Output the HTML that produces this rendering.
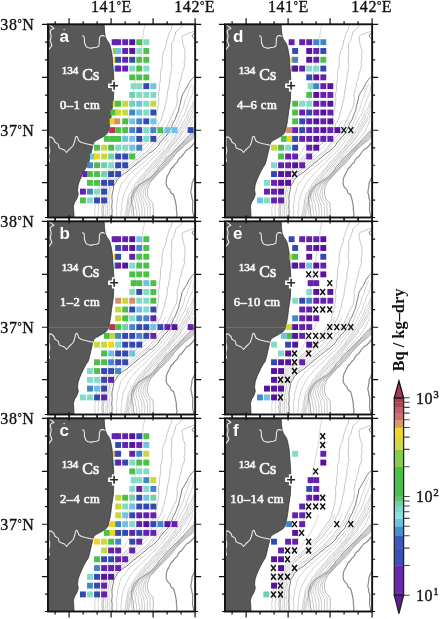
<!DOCTYPE html><html><head><meta charset="utf-8"><style>
html,body{margin:0;padding:0;background:#fff;width:440px;height:619px;overflow:hidden}
svg{display:block;will-change:transform}
text{font-family:"Liberation Serif",serif}
.pl{font-family:"Liberation Sans",sans-serif;font-weight:bold;font-size:17px;fill:#fff}
.cs{font-size:16px;fill:#f6f6f6;stroke:#f6f6f6;stroke-width:0.7px}
.dp{font-size:12.6px;fill:#f6f6f6;stroke:#f6f6f6;stroke-width:0.65px;letter-spacing:0.45px}
.ax{font-size:16px;fill:#111;stroke:#111;stroke-width:0.35px;letter-spacing:0.6px}
.x{stroke:#111;stroke-width:1.5;fill:none}
.tk{stroke:#111;stroke-width:1.2;fill:none}
.fr{stroke:#111;stroke-width:1.9;fill:none}
</style></head><body>
<svg width="440" height="619" viewBox="0 0 440 619">
<defs>
<clipPath id="pc"><rect x="0" y="0" width="147.4" height="193.8"/></clipPath>
<g id="map" clip-path="url(#pc)">
<polyline points="97.4,-2.3 97.2,0.7 96.8,3.9 96.0,7.0 95.6,9.9 95.3,12.2 95.2,15.4 94.6,17.5 94.7,20.6 94.3,22.8 94.2,25.1 93.8,27.8 92.7,30.4 92.3,33.6 91.6,36.0 91.4,38.5 90.8,40.9 89.9,43.7 89.8,46.5 89.1,49.2 88.7,51.5 88.5,54.4 87.6,56.9 87.4,59.7 87.1,61.7 86.8,64.1 85.9,67.2 85.3,69.6 84.7,72.4 84.8,75.0 84.5,77.4 83.9,80.3 83.3,82.8 83.1,85.8 82.3,88.2 81.6,90.9 81.6,93.8 81.3,95.8 80.2,98.6 79.1,101.0 78.5,103.2 77.6,106.2 77.0,108.3 76.4,111.3 75.4,113.5 75.0,116.3 74.1,118.9 72.5,121.1 71.5,124.0 70.8,126.0 69.0,128.6 67.9,131.4 67.1,133.8 65.5,136.2 64.6,138.6 63.9,141.0 62.4,143.2 61.4,145.1 60.5,147.9 59.3,150.2 57.4,152.4 55.7,155.1 54.1,157.2 52.8,159.7 52.1,162.0 51.0,164.5 50.3,167.1 49.4,169.9 49.1,171.7 48.5,174.5 48.3,176.9 48.4,180.2 47.8,182.4 47.2,184.7 47.3,187.6 47.6,190.2 46.9,193.6 47.2,196.0" fill="none" stroke="#b8b8b8" stroke-width="0.60"/>
<polyline points="125.8,-2.4 124.9,0.2 124.0,3.8 123.4,6.1 121.9,8.5 120.9,11.5 120.3,14.2 119.3,16.4 118.9,19.9 118.1,22.5 117.3,25.3 115.8,27.8 115.5,30.1 114.8,33.1 114.6,36.3 114.9,38.9 114.4,42.2 114.2,44.3 113.2,47.0 112.9,49.7 113.0,53.2 112.9,55.6 112.5,58.7 111.7,61.3 112.2,64.2 111.8,66.6 111.0,69.7 111.0,72.5 111.5,74.9 110.8,78.2 111.0,80.2 110.2,83.0 110.4,86.1 109.0,88.5 109.3,90.8 108.1,93.1 107.2,95.1 107.5,98.1 105.6,100.8 104.1,103.2 103.1,104.9 101.2,107.4 99.7,110.1 98.2,111.9 96.4,114.4 95.1,116.0 93.7,118.4 91.9,120.4 90.0,122.0 88.0,123.5 85.9,125.7 83.5,128.3 81.7,130.0 80.2,131.9 77.8,133.6 76.1,135.7 73.6,137.3 71.7,138.8 70.3,141.0 68.1,143.3 66.4,144.9 64.1,147.0 62.5,149.4 61.0,151.5 59.5,154.2 58.2,156.4 57.7,158.3 56.6,161.4 56.1,163.1 54.6,165.9 54.5,168.5 54.3,171.8 54.9,174.8 54.2,177.4 54.6,179.6 54.8,183.1 54.1,185.8 54.3,188.0 54.9,191.0 54.1,193.3 54.4,196.0" fill="none" stroke="#a8a8a8" stroke-width="0.65"/>
<polyline points="138.3,-2.2 135.9,0.2 134.3,2.2 132.1,4.9 128.1,8.1 127.9,10.8 126.5,13.8 126.4,16.3 124.8,18.1 123.9,21.1 124.1,23.2 124.1,26.8 124.4,28.9 123.6,32.3 123.9,34.9 123.7,37.8 124.6,41.6 123.6,44.9 123.7,47.6 122.8,50.4 122.4,53.2 122.4,55.4 122.0,58.8 121.3,60.7 121.2,63.6 120.3,66.3 119.9,69.1 119.6,72.0 119.4,74.7 118.6,77.4 117.9,80.0 117.3,82.8 116.8,86.1 115.4,88.8 115.2,91.1 114.2,94.2 113.0,97.3 111.5,99.4 110.4,102.3 108.6,104.5 107.6,106.7 105.9,108.8 104.0,110.6 102.4,113.2 101.0,114.7 99.2,117.3 98.4,119.2 95.8,120.7 93.8,123.0 91.7,124.9 89.8,127.5 88.5,129.0 85.7,131.3 83.8,132.5 81.5,134.3 80.0,136.2 77.7,138.0 75.3,139.8 73.1,141.9 70.8,143.5 68.8,145.7 67.3,148.0 65.8,150.2 64.0,152.4 61.9,153.8 61.5,156.1 60.2,159.1 58.5,161.8 58.4,164.1 57.9,167.3 56.9,170.0 56.9,173.3 56.8,176.3 56.5,178.9 56.6,181.2 56.0,183.0 55.9,185.9 55.8,188.8 56.2,191.1 56.2,193.7 56.0,196.0" fill="none" stroke="#a8a8a8" stroke-width="0.65"/>
<polyline points="150.0,4.5 147.2,6.9 143.9,8.3 141.6,8.9 139.3,10.2 136.2,11.2 134.4,12.2 134.9,15.7 135.1,17.9 135.6,21.0 136.9,24.4 137.7,27.4 137.1,30.3 137.6,33.2 137.2,35.7 136.6,38.7 137.1,41.9 136.3,44.3 135.3,47.2 134.4,49.7 134.0,52.5 133.3,56.0 131.8,58.3 132.0,61.6 131.1,63.6 130.3,67.1 129.7,69.5 129.4,72.2 129.9,74.6 129.5,77.7 129.3,80.7 128.3,83.7 127.5,85.2 125.9,88.0 125.2,90.2 123.8,92.6 122.8,95.4 121.1,97.9 120.5,99.9 119.2,103.1 117.8,105.2 115.9,107.9 114.9,110.1 112.7,111.9 111.0,113.5 109.2,116.3 107.8,118.4 105.9,119.6 104.4,121.3 102.5,123.9 101.2,125.5 99.1,127.4 97.2,129.0 94.7,130.5 92.5,133.0 90.3,135.1 87.8,136.1 86.4,137.8 84.0,139.6 81.8,141.6 80.5,142.8 77.9,144.6 75.6,146.4 72.9,147.9 70.7,150.4 69.2,151.7 67.9,154.5 65.7,155.6 63.7,157.6 63.1,160.1 62.2,162.8 61.8,165.9 61.2,167.9 60.7,171.0 60.4,173.8 59.8,176.8 60.5,179.6 60.0,182.8 60.4,185.0 59.8,187.7 59.9,190.6 60.5,193.7 60.0,196.0" fill="none" stroke="#a8a8a8" stroke-width="0.65"/>
<polyline points="150.4,69.5 148.3,72.7 147.9,75.0 146.3,77.0 144.9,80.4 144.1,82.9 143.0,84.7 140.9,87.2 140.0,90.2 139.2,92.6 137.7,95.1 136.4,97.3 134.7,99.9 133.7,102.4 132.7,104.0 130.8,106.2 129.9,108.8 128.0,110.4 127.0,113.1 125.3,114.9 123.9,116.9 122.0,119.6 121.1,121.9 119.4,124.0 116.9,125.7 115.9,128.2 113.4,129.5 111.8,132.2 109.9,133.8 108.4,136.4 106.1,137.5 104.4,139.9 103.0,141.7 101.3,144.2 99.0,146.0 97.5,148.3 95.3,150.5 92.7,153.3 91.0,156.0 89.5,157.7 87.5,160.4 86.2,163.4 84.4,165.3 83.3,168.3 82.0,169.8 80.8,172.5 80.4,175.4 79.9,178.1 79.7,180.1 78.6,183.3 78.7,185.0 78.3,188.0 77.6,190.6 77.0,192.9 77.0,196.0" fill="none" stroke="#a8a8a8" stroke-width="0.60"/>
<polyline points="149.8,83.9 149.1,86.3 147.8,89.0 145.9,92.3 144.8,94.2 142.5,96.5 141.4,99.2 139.7,100.9 139.0,102.7 137.1,105.7 136.1,107.1 133.9,109.4 133.4,111.8 131.6,114.4 129.6,115.8 128.7,118.1 126.4,120.2 124.8,121.8 122.9,124.3 122.2,126.1 120.6,127.5 118.3,130.0 117.5,132.5 115.1,133.8 113.3,136.0 112.0,137.7 110.1,140.2 108.3,142.3 106.1,144.1 103.8,146.4 102.3,148.3 99.7,151.3 98.0,152.8 96.0,155.6 94.6,158.2 93.4,160.5 91.3,162.1 89.6,165.0 88.7,167.4 86.7,169.9 86.1,172.9 85.2,175.8 84.2,177.9 83.3,180.8 82.7,183.4 82.6,185.7 81.7,188.2 81.3,191.4 81.4,193.3 81.0,196.0" fill="none" stroke="#a8a8a8" stroke-width="0.60"/>
<polyline points="94.2,96.4 92.8,99.8 91.3,104.1 89.7,107.7 87.3,112.3 85.4,116.3 82.2,119.8 79.4,123.8 77.2,128.1 75.7,129.9 74.1,132.0 72.1,134.2 71.0,135.7 69.2,138.1 67.3,139.9 65.7,141.8 64.3,144.1 61.8,147.8 58.8,151.9 56.8,155.7 54.7,159.8 53.9,164.0 52.3,167.7 51.8,172.0 51.7,175.7 51.0,180.2 50.9,183.8 50.8,188.4 50.7,192.1 50.8,196.0" fill="none" stroke="#b8b8b8" stroke-width="0.55"/>
<polyline points="110.3,95.9 108.8,100.4 106.1,103.8 104.1,107.8 100.6,112.3 99.3,114.3 97.7,116.3 96.1,117.7 94.1,120.0 92.6,122.3 90.2,124.1 88.4,126.0 86.2,127.8 84.4,130.3 81.9,132.0 80.2,134.4 77.5,135.7 75.9,138.4 73.4,139.6 71.6,141.9 69.4,144.1 67.5,145.7 65.5,147.8 63.7,150.3 62.5,151.7 59.4,155.9 58.2,159.9 56.5,163.8 56.4,168.3 55.5,172.0 55.7,175.6 55.7,179.7 55.4,184.0 55.4,187.8 55.2,192.1 55.2,196.0" fill="none" stroke="#b8b8b8" stroke-width="0.55"/>
<polyline points="117.9,96.1 115.8,100.0 113.2,104.1 111.3,107.8 110.0,110.2 108.2,111.7 106.6,113.7 104.7,115.9 102.9,118.0 101.5,119.6 99.6,121.7 97.7,124.2 95.5,125.6 93.4,127.9 91.6,129.7 89.3,132.4 86.9,134.3 84.2,136.4 82.1,138.4 80.1,139.7 77.6,142.3 74.6,143.9 72.9,145.7 70.7,147.8 68.7,149.7 66.5,152.3 64.8,153.8 63.5,155.9 61.1,159.7 59.8,164.3 59.4,168.3 58.6,172.2 58.1,176.0 58.3,179.9 58.4,184.0 58.2,188.3 57.7,192.4 58.0,196.0" fill="none" stroke="#b8b8b8" stroke-width="0.55"/>
<polyline points="125.0,95.9 123.1,99.8 121.1,104.1 118.4,108.2 117.0,109.7 115.7,111.6 114.1,113.8 112.3,116.4 110.5,118.1 108.6,119.6 106.6,121.7 105.3,123.9 103.0,126.3 100.6,127.8 98.5,129.6 95.5,131.9 93.3,133.9 91.0,136.1 88.9,137.8 86.4,140.0 83.6,142.3 81.2,143.7 78.5,146.1 76.5,148.2 73.8,149.8 71.2,152.1 69.8,153.9 68.0,156.0 65.5,160.2 63.9,164.3 62.6,168.0 62.7,171.8 62.1,176.2 61.9,180.0 62.6,183.7 62.1,188.1 62.3,192.1 62.4,196.0" fill="none" stroke="#b8b8b8" stroke-width="0.55"/>
<polyline points="144.2,59.7 142.3,63.8 140.5,68.3 139.7,72.2 137.5,76.3 136.7,80.0 135.5,84.0 133.8,87.7 132.0,91.6 130.3,96.2 128.7,100.3 126.5,103.8 124.1,107.9 121.6,112.0 119.5,114.1 118.4,115.8 116.8,117.6 114.7,119.8 113.6,122.4 112.1,123.9 110.1,125.9 107.5,128.3 105.4,130.2 103.0,132.4 100.7,134.3 98.7,136.3 96.3,138.2 94.2,139.8 91.6,142.1 89.3,144.3 87.0,145.6 84.7,148.3 82.7,149.7 80.1,151.6 78.9,154.1 77.1,156.2 73.6,160.1 72.3,164.3 71.4,168.3 70.0,172.3 70.0,176.4 69.1,179.8 68.9,183.6 69.3,188.2 69.0,192.3 68.8,196.0" fill="none" stroke="#acacac" stroke-width="0.55"/>
<polyline points="147.1,59.8 145.9,63.7 145.7,67.8 144.1,71.9 142.1,75.8 140.7,80.2 139.1,83.9 137.9,88.0 135.9,92.1 133.4,95.9 131.8,100.2 129.5,104.2 127.2,107.8 124.8,111.7 123.3,113.7 121.1,115.8 120.2,118.4 118.1,120.0 115.5,124.2 113.3,126.0 111.5,128.3 109.3,130.4 107.2,131.8 105.6,134.0 103.1,136.1 101.1,138.2 99.6,140.2 97.5,141.9 95.3,143.9 93.7,145.7 91.6,147.6 89.1,149.8 87.6,152.0 85.6,154.3 83.8,156.0 81.2,160.2 79.3,164.1 77.3,167.9 75.7,172.3 75.0,176.2 74.1,180.0 74.3,184.1 73.4,188.0 73.6,191.8 72.9,196.0" fill="none" stroke="#acacac" stroke-width="0.55"/>
<polyline points="149.8,59.8 150.2,64.3 149.7,67.7 149.1,71.9 148.0,75.7 146.5,79.8 145.7,84.2 143.0,88.4 141.0,91.9 139.5,96.2 137.1,99.9 134.3,104.1 131.6,107.8 129.3,111.6 126.4,116.2 125.1,118.0 123.6,120.0 121.7,122.1 120.4,124.2 119.0,125.9 117.0,128.2 115.2,129.8 113.7,132.3 111.9,134.2 110.2,136.1 108.2,138.0 106.2,140.1 104.2,141.9 102.9,144.2 101.0,145.8 99.1,148.0 97.5,149.9 95.8,152.3 93.9,154.1 92.8,155.9 89.7,160.4 86.8,164.0 84.8,168.2 83.4,172.0 81.2,176.1 80.7,180.2 80.0,184.1 79.7,188.0 78.8,192.4 78.3,196.0" fill="none" stroke="#acacac" stroke-width="0.55"/>
<polyline points="149.8,60.1 149.9,64.2 149.7,68.4 149.6,71.6 148.8,75.9 148.0,79.9 147.6,84.2 145.6,87.8 143.5,92.2 141.6,96.0 138.6,100.2 136.2,103.8 133.5,108.2 131.5,112.1 129.7,114.0 127.9,116.4 126.5,118.1 125.3,120.3 123.5,121.8 122.0,123.7 120.5,125.9 118.9,127.8 116.9,129.8 115.2,131.7 113.1,134.2 111.5,135.8 109.7,138.0 108.0,140.1 106.4,141.9 104.8,144.3 102.4,146.3 101.3,148.2 98.9,150.3 97.6,151.6 95.5,154.4 94.5,155.8 92.6,157.7 91.2,160.2 88.8,163.7 87.0,168.2 84.4,172.3 83.3,176.2 82.2,180.3 81.5,184.3 80.5,188.2 80.3,192.2 79.7,196.0" fill="none" stroke="#acacac" stroke-width="0.55"/>
<polyline points="145.3,96.3 144.0,99.8 142.2,103.7 140.4,107.6 138.8,109.7 137.1,112.0 135.4,114.3 133.2,116.3 131.7,118.1 130.1,120.3 128.0,121.9 126.7,123.7 124.7,126.1 122.4,128.1 121.1,130.3 119.0,132.4 117.3,134.0 115.8,135.6 113.8,138.1 111.7,140.3 110.1,142.0 108.5,144.2 106.6,145.9 105.2,148.0 103.8,149.8 102.0,151.9 99.7,153.8 97.7,156.4 95.3,158.2 92.6,159.9 90.9,162.1 89.6,164.2 86.5,168.2 85.6,172.0 84.1,175.8 83.6,179.8 84.3,184.1 84.2,188.2 84.4,192.1 84.0,196.0" fill="none" stroke="#acacac" stroke-width="0.55"/>
<polyline points="147.7,96.1 147.7,99.4 147.3,102.5 147.0,106.0 144.9,109.1 141.4,112.3 138.4,116.3 134.9,119.2 131.6,122.9 128.1,125.8 124.6,129.3 121.3,132.6 118.5,136.3 115.1,139.4 112.3,142.4 110.2,146.1 107.7,149.3 103.9,152.6 102.2,154.6 100.3,156.0 97.4,157.4 95.0,159.1 92.7,160.7 90.6,162.8 88.3,166.3 87.0,169.6 86.1,172.3 86.8,175.8 87.7,179.1 87.8,182.9 88.8,186.2 89.2,189.0 89.4,192.8 89.7,196.0" fill="none" stroke="#a0a0a0" stroke-width="0.55"/>
<polyline points="147.8,96.3 147.6,99.7 147.7,102.3 146.9,106.1 145.6,109.0 142.4,112.8 138.9,116.3 135.6,119.0 132.0,122.7 128.7,126.1 125.2,129.5 122.2,132.8 119.4,135.9 116.3,139.5 113.8,142.9 110.8,145.9 107.7,149.7 104.9,152.9 102.7,154.4 101.1,156.2 98.5,157.5 96.1,159.6 92.5,162.8 90.5,166.3 89.5,169.2 88.3,172.5 89.1,176.1 90.7,179.6 90.7,182.9 91.7,186.3 91.8,189.2 92.3,192.9 92.3,196.0" fill="none" stroke="#a0a0a0" stroke-width="0.55"/>
<polyline points="148.2,96.3 147.9,99.0 147.9,102.9 147.4,106.2 146.4,109.1 143.5,112.8 140.0,115.8 136.2,119.5 133.1,122.6 129.2,126.2 126.4,129.1 123.2,132.9 120.5,136.0 117.3,139.4 114.1,142.5 111.2,146.1 108.5,149.4 105.3,152.7 103.2,154.0 101.9,155.9 99.2,157.8 97.6,159.1 94.3,162.6 92.4,165.7 91.0,169.7 91.3,172.7 91.7,175.8 93.6,179.3 94.2,182.9 94.6,186.3 94.4,189.0 94.5,192.4 94.9,196.0" fill="none" stroke="#a0a0a0" stroke-width="0.55"/>
<polyline points="148.0,95.7 148.3,99.6 148.1,103.0 148.2,105.7 146.9,109.3 144.1,113.0 140.8,116.0 139.2,118.0 137.3,119.3 133.6,122.4 130.6,126.3 126.7,129.0 123.8,132.6 121.4,136.3 118.4,139.0 115.3,142.8 112.3,146.3 108.9,149.1 106.1,153.0 102.5,155.9 100.6,157.8 98.3,159.2 95.6,162.4 94.2,165.8 93.3,169.1 93.4,172.3 94.4,175.8 96.1,179.6 96.6,183.0 97.4,186.3 97.1,189.3 97.1,193.0 97.5,196.0" fill="none" stroke="#a0a0a0" stroke-width="0.55"/>
<polyline points="148.8,96.1 148.5,99.2 148.6,102.7 148.4,105.7 147.4,109.0 145.5,112.7 141.7,116.3 139.8,117.6 137.7,119.2 134.6,122.6 130.8,126.0 127.6,129.6 124.5,133.0 121.7,136.3 119.2,139.1 115.9,142.5 112.7,145.8 109.7,149.7 106.9,153.0 102.9,155.9 100.1,159.0 97.6,162.5 96.4,165.7 95.7,169.2 95.4,172.3 97.0,176.0 99.1,179.3 100.0,182.5 100.1,185.7 99.9,189.5 100.2,192.5 100.1,196.0" fill="none" stroke="#a0a0a0" stroke-width="0.55"/>
<polyline points="148.5,95.7 148.8,99.3 148.5,102.5 148.7,106.1 148.5,109.4 146.1,112.4 143.0,115.9 141.0,117.4 139.0,119.2 135.3,122.9 131.8,125.7 128.7,129.3 125.9,132.5 122.7,136.2 120.0,139.1 116.7,142.7 113.2,146.0 110.3,149.3 106.8,152.8 104.2,156.3 101.0,159.5 99.0,162.8 97.7,166.3 97.9,169.3 98.0,172.7 99.3,175.7 102.6,179.1 102.4,182.4 102.7,186.2 102.5,189.1 102.9,192.5 102.7,196.0" fill="none" stroke="#a0a0a0" stroke-width="0.55"/>
<polyline points="147.1,98.1 147.2,101.0 146.9,103.6 146.7,107.1 143.8,108.8 142.0,111.3 139.6,113.2 137.5,115.4 135.5,118.2 133.0,120.1 131.3,122.0 129.2,124.8 126.6,126.5 124.8,128.8 122.3,131.3 120.4,133.0 118.2,134.9 116.5,137.4 115.0,139.4 113.3,141.3 111.0,143.2 110.1,145.8 107.8,147.6 106.5,149.8 104.2,151.8 101.8,154.4 98.7,155.8 96.6,158.0 93.7,159.6 90.7,161.5 88.6,163.7 86.1,166.7 85.0,170.1 83.7,174.0 84.3,176.9 84.8,180.4 85.8,183.8 85.8,187.5 86.1,190.3 87.1,193.1 87.1,196.0" fill="none" stroke="#8e8e8e" stroke-width="0.85"/>
<polyline points="148.8,100.0 149.0,102.2 148.7,104.7 148.8,107.4 148.8,109.8 146.1,113.9 144.5,115.7 142.1,117.5 139.6,119.3 137.6,120.9 135.5,123.1 133.1,125.0 130.9,127.4 128.8,129.7 126.8,131.7 125.7,133.8 123.7,136.2 121.7,138.8 119.4,140.9 117.0,142.7 115.3,145.3 112.3,147.5 110.3,150.2 107.7,152.1 106.7,154.4 104.4,156.0 102.9,158.1 101.6,161.3 100.3,164.0 100.0,166.8 99.8,169.2 100.4,172.2 101.0,174.6 103.3,176.8 105.5,179.5 105.5,182.6 105.9,185.0 105.9,188.1 105.6,190.5 105.4,193.2 105.3,196.0" fill="none" stroke="#9a9a9a" stroke-width="0.70"/>
<polyline points="150.2,43.8 149.0,46.5 148.2,48.8 147.6,51.7 145.8,53.4 144.0,55.4 142.4,57.7 141.2,59.4 140.1,62.0 138.6,64.8 137.3,66.7 135.5,69.7 134.3,71.8 133.8,75.0 133.1,78.0 132.2,81.3 131.6,83.9 131.1,86.9 129.7,89.9 128.5,93.1 127.5,95.6 125.9,98.3 124.9,100.8 123.8,103.3 122.9,105.3 121.2,107.8 120.4,109.9 118.3,112.3 116.2,113.9 115.1,116.3 113.0,117.7 111.8,120.2 110.2,122.4 108.7,123.9 106.5,125.8 104.4,127.7 101.8,129.1 99.7,131.1 97.6,133.0 95.9,133.9 93.8,136.1 91.8,137.7 89.6,139.0 88.3,140.8 86.1,142.1 84.0,144.0 81.5,146.0 79.4,148.1 77.1,149.4 73.9,151.5 71.7,153.7 69.7,155.7 68.5,158.3 67.1,160.2 66.0,162.3 65.9,165.2 65.2,167.9 64.6,170.8 64.4,174.3 64.7,176.9 64.5,179.9 64.2,183.0 64.6,185.7 64.6,188.1 64.4,190.3 65.0,193.6 64.7,196.0" fill="none" stroke="#7c7c7c" stroke-width="1.00"/>
<polyline points="149.7,116.6 146.8,118.9 144.3,122.0 142.0,124.2 139.4,125.6 137.9,127.5 135.6,130.6 134.1,132.7 132.1,134.0 130.5,136.2 129.6,138.5 127.3,140.4 125.5,143.0 123.6,144.7 122.0,148.1 121.2,149.6 119.8,152.0 118.9,155.1 118.6,159.1 119.1,161.9 120.2,163.6 122.4,165.8 123.6,169.1 125.9,170.5 127.0,173.6 127.9,177.4 128.5,180.8 128.9,182.5 128.8,184.9 129.2,187.8 129.5,190.9 128.7,193.0 128.9,196.0" fill="none" stroke="#8a8a8a" stroke-width="1.20"/>
<polyline points="149.2,149.6 148.1,151.8 146.6,154.7 145.3,157.3 144.4,159.5 144.4,161.9 143.9,164.5 143.3,168.5 144.1,171.2 144.4,174.0 145.3,176.8 145.2,178.9 145.2,181.9 145.0,185.3 145.2,187.6 146.1,190.9 146.0,193.8 145.5,196.0" fill="none" stroke="#8a8a8a" stroke-width="1.20"/>
<polyline points="149.0,7.0 146.0,9.7 144.6,11.8 146.0,13.9 149.0,15.0" fill="none" stroke="#808080" stroke-width="1.00"/>
<polygon points="0.0,-2.0 56.6,-2.0 56.7,1.0 57.0,6.8 57.7,12.3 59.1,15.7 61.1,18.4 62.2,20.4 63.2,23.9 63.9,27.3 64.5,30.7 64.9,34.1 65.3,40.0 65.8,47.0 66.2,53.0 66.3,58.0 66.3,62.0 66.2,69.0 65.9,76.0 65.1,82.0 64.1,88.0 63.4,94.3 62.4,100.4 61.5,104.5 60.5,108.3 58.2,111.0 55.0,113.0 51.5,115.0 48.5,116.6 46.3,118.5 45.3,121.5 44.3,126.0 43.3,130.1 42.1,135.5 40.8,140.0 38.5,143.5 36.5,147.0 34.4,151.5 32.2,156.4 30.6,161.2 30.1,166.1 30.8,170.5 29.3,174.8 26.9,178.7 25.9,182.5 26.3,187.4 26.6,196.0 0.0,196.0" fill="#585858" stroke="#2a2a2a" stroke-width="0.7"/>
<polyline points="34.6,11.8 36.4,12.3 36.9,14.5 36.9,18.2 38.2,21.8 40.0,23.6 42.3,24.1 44.6,24.1 46.4,23.6 49.1,23.2 51.2,22.3 51.8,18.4 51.9,14.5 52.9,12.3 54.4,11.6 56.0,11.6 57.3,12.7" fill="none" stroke="#ececec" stroke-width="1.05" stroke-linejoin="round"/>
<polyline points="1.5,0.5 3.0,1.6 4.8,3.0 6.4,4.4 3.8,5.4 2.6,7.5 3.2,9.5 3.6,12.0 3.4,14.3 2.6,16.4 3.6,19.0 4.4,21.6 2.8,23.6 1.6,25.5" fill="none" stroke="#ececec" stroke-width="1.05" stroke-linejoin="round"/>
<polyline points="1.3,113.1 4.0,113.1 6.5,115.5 7.5,118.3 10.7,120.1 11.6,123.7 14.3,125.1 17.0,126.0 19.1,128.5 21.1,126.0 23.9,123.3 25.7,121.5 26.8,118.5 27.7,115.5 27.9,113.1 29.5,112.2 30.5,114.5 31.3,116.7 34.0,118.5 37.7,119.5 42.2,120.4 45.9,121.3" fill="none" stroke="#ececec" stroke-width="1.05" stroke-linejoin="round"/>
<polyline points="1.3,113.1 1.5,117.0 1.3,121.0 2.2,125.0 2.2,127.6 1.3,131.0 1.3,134.0 2.2,137.6" fill="none" stroke="#ececec" stroke-width="1.05" stroke-linejoin="round"/>
</g>
<g id="npp"><path d="M66.6 56.2v11.2M60.6 61.8h11.4" stroke="#fff" stroke-width="4.4"/><path d="M66.6 57.8v8M62.6 61.8h8" stroke="#2a2a2a" stroke-width="1.6"/></g>
</defs>
<g transform="translate(47.50,24.00)">
<use href="#map"/>
<rect x="64.17" y="15.25" width="5.9" height="5.9" fill="#6420ae"/>
<rect x="67.69" y="15.25" width="5.9" height="5.9" fill="#6420ae"/>
<rect x="74.73" y="15.25" width="5.9" height="5.9" fill="#6420ae"/>
<rect x="81.77" y="15.25" width="5.9" height="5.9" fill="#5812a0"/>
<rect x="88.81" y="15.25" width="5.9" height="5.9" fill="#4cbf48"/>
<rect x="95.85" y="15.25" width="5.9" height="5.9" fill="#82dac8"/>
<rect x="65.23" y="24.04" width="5.9" height="5.9" fill="#8ccf3c"/>
<rect x="67.69" y="24.04" width="5.9" height="5.9" fill="#6ec2e2"/>
<rect x="74.73" y="24.04" width="5.9" height="5.9" fill="#6420ae"/>
<rect x="81.77" y="24.04" width="5.9" height="5.9" fill="#5812a0"/>
<rect x="88.81" y="24.04" width="5.9" height="5.9" fill="#82dac8"/>
<rect x="95.85" y="24.04" width="5.9" height="5.9" fill="#4cbf48"/>
<rect x="65.93" y="32.83" width="5.9" height="5.9" fill="#f2d41e"/>
<rect x="67.69" y="32.83" width="5.9" height="5.9" fill="#3249b2"/>
<rect x="74.73" y="32.83" width="5.9" height="5.9" fill="#6420ae"/>
<rect x="81.77" y="32.83" width="5.9" height="5.9" fill="#3249b2"/>
<rect x="88.81" y="32.83" width="5.9" height="5.9" fill="#4cbf48"/>
<rect x="95.85" y="32.83" width="5.9" height="5.9" fill="#4cbf48"/>
<rect x="66.63" y="41.62" width="5.9" height="5.9" fill="#6ec2e2"/>
<rect x="67.69" y="41.62" width="5.9" height="5.9" fill="#6420ae"/>
<rect x="74.73" y="41.62" width="5.9" height="5.9" fill="#6420ae"/>
<rect x="81.77" y="41.62" width="5.9" height="5.9" fill="#82dac8"/>
<rect x="88.81" y="41.62" width="5.9" height="5.9" fill="#4cbf48"/>
<rect x="95.85" y="41.62" width="5.9" height="5.9" fill="#82dac8"/>
<rect x="81.77" y="50.41" width="5.9" height="5.9" fill="#4cbf48"/>
<rect x="88.81" y="50.41" width="5.9" height="5.9" fill="#4cbf48"/>
<rect x="95.85" y="50.41" width="5.9" height="5.9" fill="#4cbf48"/>
<rect x="83.18" y="59.20" width="5.9" height="5.9" fill="#82dac8"/>
<rect x="88.81" y="59.20" width="5.9" height="5.9" fill="#82dac8"/>
<rect x="95.85" y="59.20" width="5.9" height="5.9" fill="#3249b2"/>
<rect x="102.89" y="59.20" width="5.9" height="5.9" fill="#6ec2e2"/>
<rect x="81.77" y="67.99" width="5.9" height="5.9" fill="#70d2aa"/>
<rect x="88.81" y="67.99" width="5.9" height="5.9" fill="#82dac8"/>
<rect x="95.85" y="67.99" width="5.9" height="5.9" fill="#82dac8"/>
<rect x="102.89" y="67.99" width="5.9" height="5.9" fill="#82dac8"/>
<rect x="65.23" y="76.78" width="5.9" height="5.9" fill="#c6d83e"/>
<rect x="67.69" y="76.78" width="5.9" height="5.9" fill="#4cbf48"/>
<rect x="74.73" y="76.78" width="5.9" height="5.9" fill="#c6d83e"/>
<rect x="81.77" y="76.78" width="5.9" height="5.9" fill="#70d2aa"/>
<rect x="88.81" y="76.78" width="5.9" height="5.9" fill="#6ec2e2"/>
<rect x="95.85" y="76.78" width="5.9" height="5.9" fill="#82dac8"/>
<rect x="102.89" y="76.78" width="5.9" height="5.9" fill="#c6d83e"/>
<rect x="62.97" y="85.57" width="5.9" height="5.9" fill="#4cbf48"/>
<rect x="67.69" y="85.57" width="5.9" height="5.9" fill="#c6d83e"/>
<rect x="74.73" y="85.57" width="5.9" height="5.9" fill="#c6d83e"/>
<rect x="81.77" y="85.57" width="5.9" height="5.9" fill="#4484ca"/>
<rect x="88.81" y="85.57" width="5.9" height="5.9" fill="#6ec2e2"/>
<rect x="95.85" y="85.57" width="5.9" height="5.9" fill="#82dac8"/>
<rect x="102.89" y="85.57" width="5.9" height="5.9" fill="#3249b2"/>
<rect x="62.13" y="94.36" width="5.9" height="5.9" fill="#f2d41e"/>
<rect x="66.85" y="94.36" width="5.9" height="5.9" fill="#d88c6a"/>
<rect x="74.73" y="94.36" width="5.9" height="5.9" fill="#4cbf48"/>
<rect x="81.77" y="94.36" width="5.9" height="5.9" fill="#6ec2e2"/>
<rect x="88.81" y="94.36" width="5.9" height="5.9" fill="#4484ca"/>
<rect x="95.85" y="94.36" width="5.9" height="5.9" fill="#3249b2"/>
<rect x="102.89" y="94.36" width="5.9" height="5.9" fill="#6ec2e2"/>
<rect x="61.64" y="103.15" width="5.9" height="5.9" fill="#c0304c"/>
<rect x="67.69" y="103.15" width="5.9" height="5.9" fill="#4cbf48"/>
<rect x="74.73" y="103.15" width="5.9" height="5.9" fill="#4cbf48"/>
<rect x="81.77" y="103.15" width="5.9" height="5.9" fill="#4484ca"/>
<rect x="88.81" y="103.15" width="5.9" height="5.9" fill="#3249b2"/>
<rect x="95.85" y="103.15" width="5.9" height="5.9" fill="#82dac8"/>
<rect x="102.89" y="103.15" width="5.9" height="5.9" fill="#4484ca"/>
<rect x="109.93" y="103.15" width="5.9" height="5.9" fill="#4cbf48"/>
<rect x="116.97" y="103.15" width="5.9" height="5.9" fill="#6ec2e2"/>
<rect x="124.01" y="103.15" width="5.9" height="5.9" fill="#6ec2e2"/>
<rect x="140.13" y="103.15" width="5.9" height="5.9" fill="#3249b2"/>
<rect x="56.36" y="111.94" width="5.9" height="5.9" fill="#4cbf48"/>
<rect x="62.27" y="111.94" width="5.9" height="5.9" fill="#4cbf48"/>
<rect x="67.69" y="111.94" width="5.9" height="5.9" fill="#4cbf48"/>
<rect x="74.73" y="111.94" width="5.9" height="5.9" fill="#6ec2e2"/>
<rect x="81.77" y="111.94" width="5.9" height="5.9" fill="#6ec2e2"/>
<rect x="88.81" y="111.94" width="5.9" height="5.9" fill="#3249b2"/>
<rect x="95.85" y="111.94" width="5.9" height="5.9" fill="#82dac8"/>
<rect x="102.89" y="111.94" width="5.9" height="5.9" fill="#3249b2"/>
<rect x="46.57" y="120.73" width="5.9" height="5.9" fill="#4cbf48"/>
<rect x="53.61" y="120.73" width="5.9" height="5.9" fill="#c6d83e"/>
<rect x="60.65" y="120.73" width="5.9" height="5.9" fill="#4cbf48"/>
<rect x="67.69" y="120.73" width="5.9" height="5.9" fill="#82dac8"/>
<rect x="74.73" y="120.73" width="5.9" height="5.9" fill="#82dac8"/>
<rect x="81.77" y="120.73" width="5.9" height="5.9" fill="#6ec2e2"/>
<rect x="88.81" y="120.73" width="5.9" height="5.9" fill="#4484ca"/>
<rect x="42.35" y="129.52" width="5.9" height="5.9" fill="#6ec2e2"/>
<rect x="46.57" y="129.52" width="5.9" height="5.9" fill="#f2d41e"/>
<rect x="53.61" y="129.52" width="5.9" height="5.9" fill="#c6d83e"/>
<rect x="60.65" y="129.52" width="5.9" height="5.9" fill="#70d2aa"/>
<rect x="67.69" y="129.52" width="5.9" height="5.9" fill="#3249b2"/>
<rect x="74.73" y="129.52" width="5.9" height="5.9" fill="#3249b2"/>
<rect x="81.77" y="129.52" width="5.9" height="5.9" fill="#4cbf48"/>
<rect x="39.53" y="138.31" width="5.9" height="5.9" fill="#4484ca"/>
<rect x="46.57" y="138.31" width="5.9" height="5.9" fill="#4cbf48"/>
<rect x="53.61" y="138.31" width="5.9" height="5.9" fill="#70d2aa"/>
<rect x="60.65" y="138.31" width="5.9" height="5.9" fill="#82dac8"/>
<rect x="67.69" y="138.31" width="5.9" height="5.9" fill="#3249b2"/>
<rect x="74.73" y="138.31" width="5.9" height="5.9" fill="#3249b2"/>
<rect x="35.02" y="147.10" width="5.9" height="5.9" fill="#6420ae"/>
<rect x="39.53" y="147.10" width="5.9" height="5.9" fill="#4cbf48"/>
<rect x="46.57" y="147.10" width="5.9" height="5.9" fill="#4cbf48"/>
<rect x="53.61" y="147.10" width="5.9" height="5.9" fill="#70d2aa"/>
<rect x="60.65" y="147.10" width="5.9" height="5.9" fill="#3249b2"/>
<rect x="67.69" y="147.10" width="5.9" height="5.9" fill="#3249b2"/>
<rect x="39.53" y="155.89" width="5.9" height="5.9" fill="#4cbf48"/>
<rect x="46.57" y="155.89" width="5.9" height="5.9" fill="#4cbf48"/>
<rect x="53.61" y="155.89" width="5.9" height="5.9" fill="#3249b2"/>
<rect x="60.65" y="155.89" width="5.9" height="5.9" fill="#3249b2"/>
<rect x="32.49" y="164.68" width="5.9" height="5.9" fill="#6420ae"/>
<rect x="39.53" y="164.68" width="5.9" height="5.9" fill="#4484ca"/>
<rect x="46.57" y="164.68" width="5.9" height="5.9" fill="#82dac8"/>
<rect x="53.61" y="164.68" width="5.9" height="5.9" fill="#3249b2"/>
<rect x="32.49" y="173.47" width="5.9" height="5.9" fill="#4cbf48"/>
<rect x="39.53" y="173.47" width="5.9" height="5.9" fill="#82dac8"/>
<rect x="46.57" y="173.47" width="5.9" height="5.9" fill="#3249b2"/>
<rect x="53.61" y="173.47" width="5.9" height="5.9" fill="#3249b2"/>
<text x="12.0" y="18.2" class="pl">a</text>
<circle cx="16.6" cy="5.6" r="0.75" fill="#ddd"/>
<text x="33" y="55.8" class="cs" text-anchor="middle"><tspan font-size="11" dy="-5.5">134</tspan><tspan dy="5.5"> Cs</tspan></text>
<text x="32.6" y="85.3" class="dp" text-anchor="middle">0–1 cm</text>
<use href="#npp"/>
</g>
<g transform="translate(47.50,221.00)">
<use href="#map"/>
<path d="M0 106.4H61.6" stroke="#747474" stroke-width="0.9"/>
<rect x="64.17" y="15.25" width="5.9" height="5.9" fill="#6420ae"/>
<rect x="67.69" y="15.25" width="5.9" height="5.9" fill="#6420ae"/>
<rect x="74.73" y="15.25" width="5.9" height="5.9" fill="#6420ae"/>
<rect x="81.77" y="15.25" width="5.9" height="5.9" fill="#5812a0"/>
<rect x="88.81" y="15.25" width="5.9" height="5.9" fill="#6ec2e2"/>
<rect x="95.85" y="15.25" width="5.9" height="5.9" fill="#4cbf48"/>
<rect x="67.69" y="24.04" width="5.9" height="5.9" fill="#3249b2"/>
<rect x="74.73" y="24.04" width="5.9" height="5.9" fill="#6420ae"/>
<rect x="81.77" y="24.04" width="5.9" height="5.9" fill="#5812a0"/>
<rect x="88.81" y="24.04" width="5.9" height="5.9" fill="#4484ca"/>
<rect x="95.85" y="24.04" width="5.9" height="5.9" fill="#4cbf48"/>
<rect x="65.93" y="32.83" width="5.9" height="5.9" fill="#f2d41e"/>
<rect x="67.69" y="32.83" width="5.9" height="5.9" fill="#3249b2"/>
<rect x="81.77" y="32.83" width="5.9" height="5.9" fill="#6420ae"/>
<rect x="88.81" y="32.83" width="5.9" height="5.9" fill="#4cbf48"/>
<rect x="95.85" y="32.83" width="5.9" height="5.9" fill="#4cbf48"/>
<rect x="66.63" y="41.62" width="5.9" height="5.9" fill="#6ec2e2"/>
<rect x="67.69" y="41.62" width="5.9" height="5.9" fill="#6420ae"/>
<rect x="74.73" y="41.62" width="5.9" height="5.9" fill="#5812a0"/>
<rect x="81.77" y="41.62" width="5.9" height="5.9" fill="#82dac8"/>
<rect x="88.81" y="41.62" width="5.9" height="5.9" fill="#4cbf48"/>
<rect x="95.85" y="41.62" width="5.9" height="5.9" fill="#4cbf48"/>
<rect x="81.77" y="50.41" width="5.9" height="5.9" fill="#4cbf48"/>
<rect x="88.81" y="50.41" width="5.9" height="5.9" fill="#4cbf48"/>
<rect x="95.85" y="50.41" width="5.9" height="5.9" fill="#4cbf48"/>
<rect x="83.18" y="59.20" width="5.9" height="5.9" fill="#4cbf48"/>
<rect x="88.81" y="59.20" width="5.9" height="5.9" fill="#4cbf48"/>
<rect x="95.85" y="59.20" width="5.9" height="5.9" fill="#6ec2e2"/>
<rect x="102.89" y="59.20" width="5.9" height="5.9" fill="#4cbf48"/>
<rect x="81.77" y="67.99" width="5.9" height="5.9" fill="#82dac8"/>
<rect x="88.81" y="67.99" width="5.9" height="5.9" fill="#3249b2"/>
<rect x="95.85" y="67.99" width="5.9" height="5.9" fill="#82dac8"/>
<rect x="102.89" y="67.99" width="5.9" height="5.9" fill="#4cbf48"/>
<rect x="67.69" y="76.78" width="5.9" height="5.9" fill="#d88c6a"/>
<rect x="74.73" y="76.78" width="5.9" height="5.9" fill="#c6d83e"/>
<rect x="81.77" y="76.78" width="5.9" height="5.9" fill="#d88c6a"/>
<rect x="88.81" y="76.78" width="5.9" height="5.9" fill="#82dac8"/>
<rect x="95.85" y="76.78" width="5.9" height="5.9" fill="#82dac8"/>
<rect x="102.89" y="76.78" width="5.9" height="5.9" fill="#4cbf48"/>
<rect x="67.69" y="85.57" width="5.9" height="5.9" fill="#c6d83e"/>
<rect x="74.73" y="85.57" width="5.9" height="5.9" fill="#4cbf48"/>
<rect x="81.77" y="85.57" width="5.9" height="5.9" fill="#3249b2"/>
<rect x="88.81" y="85.57" width="5.9" height="5.9" fill="#6ec2e2"/>
<rect x="95.85" y="85.57" width="5.9" height="5.9" fill="#82dac8"/>
<rect x="102.89" y="85.57" width="5.9" height="5.9" fill="#3249b2"/>
<rect x="67.69" y="94.36" width="5.9" height="5.9" fill="#c6d83e"/>
<rect x="74.73" y="94.36" width="5.9" height="5.9" fill="#4cbf48"/>
<rect x="81.77" y="94.36" width="5.9" height="5.9" fill="#82dac8"/>
<rect x="88.81" y="94.36" width="5.9" height="5.9" fill="#4484ca"/>
<rect x="95.85" y="94.36" width="5.9" height="5.9" fill="#4484ca"/>
<rect x="102.89" y="94.36" width="5.9" height="5.9" fill="#6420ae"/>
<rect x="61.64" y="103.15" width="5.9" height="5.9" fill="#c0304c"/>
<rect x="67.69" y="103.15" width="5.9" height="5.9" fill="#4cbf48"/>
<rect x="74.73" y="103.15" width="5.9" height="5.9" fill="#70d2aa"/>
<rect x="81.77" y="103.15" width="5.9" height="5.9" fill="#4484ca"/>
<rect x="88.81" y="103.15" width="5.9" height="5.9" fill="#3249b2"/>
<rect x="95.85" y="103.15" width="5.9" height="5.9" fill="#3249b2"/>
<rect x="102.89" y="103.15" width="5.9" height="5.9" fill="#6ec2e2"/>
<rect x="109.93" y="103.15" width="5.9" height="5.9" fill="#3249b2"/>
<rect x="116.97" y="103.15" width="5.9" height="5.9" fill="#6420ae"/>
<rect x="124.01" y="103.15" width="5.9" height="5.9" fill="#5812a0"/>
<rect x="140.13" y="103.15" width="5.9" height="5.9" fill="#6420ae"/>
<rect x="56.36" y="111.94" width="5.9" height="5.9" fill="#4cbf48"/>
<rect x="62.27" y="111.94" width="5.9" height="5.9" fill="#c6d83e"/>
<rect x="67.69" y="111.94" width="5.9" height="5.9" fill="#4484ca"/>
<rect x="74.73" y="111.94" width="5.9" height="5.9" fill="#3249b2"/>
<rect x="81.77" y="111.94" width="5.9" height="5.9" fill="#3249b2"/>
<rect x="88.81" y="111.94" width="5.9" height="5.9" fill="#4484ca"/>
<rect x="95.85" y="111.94" width="5.9" height="5.9" fill="#3249b2"/>
<rect x="102.89" y="111.94" width="5.9" height="5.9" fill="#6420ae"/>
<rect x="46.57" y="120.73" width="5.9" height="5.9" fill="#c6d83e"/>
<rect x="53.61" y="120.73" width="5.9" height="5.9" fill="#c6d83e"/>
<rect x="60.65" y="120.73" width="5.9" height="5.9" fill="#f2d41e"/>
<rect x="67.69" y="120.73" width="5.9" height="5.9" fill="#82dac8"/>
<rect x="74.73" y="120.73" width="5.9" height="5.9" fill="#3249b2"/>
<rect x="81.77" y="120.73" width="5.9" height="5.9" fill="#3249b2"/>
<rect x="88.81" y="120.73" width="5.9" height="5.9" fill="#3249b2"/>
<rect x="53.61" y="129.52" width="5.9" height="5.9" fill="#4cbf48"/>
<rect x="60.65" y="129.52" width="5.9" height="5.9" fill="#6ec2e2"/>
<rect x="67.69" y="129.52" width="5.9" height="5.9" fill="#3249b2"/>
<rect x="74.73" y="129.52" width="5.9" height="5.9" fill="#3249b2"/>
<rect x="81.77" y="129.52" width="5.9" height="5.9" fill="#6ec2e2"/>
<rect x="46.57" y="138.31" width="5.9" height="5.9" fill="#4cbf48"/>
<rect x="53.61" y="138.31" width="5.9" height="5.9" fill="#4cbf48"/>
<rect x="60.65" y="138.31" width="5.9" height="5.9" fill="#4484ca"/>
<rect x="67.69" y="138.31" width="5.9" height="5.9" fill="#3249b2"/>
<rect x="74.73" y="138.31" width="5.9" height="5.9" fill="#3249b2"/>
<rect x="39.53" y="147.10" width="5.9" height="5.9" fill="#82dac8"/>
<rect x="46.57" y="147.10" width="5.9" height="5.9" fill="#4cbf48"/>
<rect x="53.61" y="147.10" width="5.9" height="5.9" fill="#3249b2"/>
<rect x="60.65" y="147.10" width="5.9" height="5.9" fill="#3249b2"/>
<rect x="67.69" y="147.10" width="5.9" height="5.9" fill="#4484ca"/>
<rect x="39.53" y="155.89" width="5.9" height="5.9" fill="#82dac8"/>
<rect x="46.57" y="155.89" width="5.9" height="5.9" fill="#82dac8"/>
<rect x="53.61" y="155.89" width="5.9" height="5.9" fill="#3249b2"/>
<rect x="60.65" y="155.89" width="5.9" height="5.9" fill="#6420ae"/>
<rect x="39.53" y="164.68" width="5.9" height="5.9" fill="#4484ca"/>
<rect x="46.57" y="164.68" width="5.9" height="5.9" fill="#6ec2e2"/>
<rect x="53.61" y="164.68" width="5.9" height="5.9" fill="#3249b2"/>
<rect x="32.49" y="173.47" width="5.9" height="5.9" fill="#82dac8"/>
<rect x="39.53" y="173.47" width="5.9" height="5.9" fill="#82dac8"/>
<rect x="46.57" y="173.47" width="5.9" height="5.9" fill="#3249b2"/>
<rect x="53.61" y="173.47" width="5.9" height="5.9" fill="#6420ae"/>
<text x="12.0" y="18.2" class="pl">b</text>
<text x="33" y="55.8" class="cs" text-anchor="middle"><tspan font-size="11" dy="-5.5">134</tspan><tspan dy="5.5"> Cs</tspan></text>
<text x="32.6" y="85.3" class="dp" text-anchor="middle">1–2 cm</text>
<use href="#npp"/>
</g>
<g transform="translate(47.50,418.00)">
<use href="#map"/>
<rect x="64.17" y="15.25" width="5.9" height="5.9" fill="#6420ae"/>
<rect x="67.69" y="15.25" width="5.9" height="5.9" fill="#6420ae"/>
<rect x="74.73" y="15.25" width="5.9" height="5.9" fill="#6420ae"/>
<rect x="81.77" y="15.25" width="5.9" height="5.9" fill="#5812a0"/>
<rect x="88.81" y="15.25" width="5.9" height="5.9" fill="#3249b2"/>
<rect x="95.85" y="15.25" width="5.9" height="5.9" fill="#4cbf48"/>
<rect x="67.69" y="24.04" width="5.9" height="5.9" fill="#3249b2"/>
<rect x="74.73" y="24.04" width="5.9" height="5.9" fill="#6420ae"/>
<rect x="81.77" y="24.04" width="5.9" height="5.9" fill="#5812a0"/>
<rect x="88.81" y="24.04" width="5.9" height="5.9" fill="#6420ae"/>
<rect x="95.85" y="24.04" width="5.9" height="5.9" fill="#6ec2e2"/>
<rect x="65.93" y="32.83" width="5.9" height="5.9" fill="#d88c6a"/>
<rect x="67.69" y="32.83" width="5.9" height="5.9" fill="#3249b2"/>
<rect x="81.77" y="32.83" width="5.9" height="5.9" fill="#6420ae"/>
<rect x="88.81" y="32.83" width="5.9" height="5.9" fill="#4484ca"/>
<rect x="95.85" y="32.83" width="5.9" height="5.9" fill="#c6d83e"/>
<rect x="66.63" y="41.62" width="5.9" height="5.9" fill="#82dac8"/>
<rect x="67.69" y="41.62" width="5.9" height="5.9" fill="#6420ae"/>
<rect x="74.73" y="41.62" width="5.9" height="5.9" fill="#3249b2"/>
<rect x="81.77" y="41.62" width="5.9" height="5.9" fill="#82dac8"/>
<rect x="88.81" y="41.62" width="5.9" height="5.9" fill="#4cbf48"/>
<rect x="95.85" y="41.62" width="5.9" height="5.9" fill="#4cbf48"/>
<rect x="81.77" y="50.41" width="5.9" height="5.9" fill="#4cbf48"/>
<rect x="88.81" y="50.41" width="5.9" height="5.9" fill="#82dac8"/>
<rect x="95.85" y="50.41" width="5.9" height="5.9" fill="#82dac8"/>
<rect x="83.18" y="59.20" width="5.9" height="5.9" fill="#82dac8"/>
<rect x="88.81" y="59.20" width="5.9" height="5.9" fill="#82dac8"/>
<rect x="95.85" y="59.20" width="5.9" height="5.9" fill="#4484ca"/>
<rect x="102.89" y="59.20" width="5.9" height="5.9" fill="#c6d83e"/>
<rect x="81.77" y="67.99" width="5.9" height="5.9" fill="#82dac8"/>
<rect x="88.81" y="67.99" width="5.9" height="5.9" fill="#6420ae"/>
<rect x="95.85" y="67.99" width="5.9" height="5.9" fill="#82dac8"/>
<rect x="102.89" y="67.99" width="5.9" height="5.9" fill="#4484ca"/>
<rect x="67.69" y="76.78" width="5.9" height="5.9" fill="#c6d83e"/>
<rect x="74.73" y="76.78" width="5.9" height="5.9" fill="#4cbf48"/>
<rect x="81.77" y="76.78" width="5.9" height="5.9" fill="#70d2aa"/>
<rect x="88.81" y="76.78" width="5.9" height="5.9" fill="#3249b2"/>
<rect x="95.85" y="76.78" width="5.9" height="5.9" fill="#6ec2e2"/>
<rect x="102.89" y="76.78" width="5.9" height="5.9" fill="#70d2aa"/>
<rect x="67.69" y="85.57" width="5.9" height="5.9" fill="#c6d83e"/>
<rect x="74.73" y="85.57" width="5.9" height="5.9" fill="#82dac8"/>
<rect x="81.77" y="85.57" width="5.9" height="5.9" fill="#6ec2e2"/>
<rect x="88.81" y="85.57" width="5.9" height="5.9" fill="#3249b2"/>
<rect x="95.85" y="85.57" width="5.9" height="5.9" fill="#3249b2"/>
<rect x="102.89" y="85.57" width="5.9" height="5.9" fill="#3249b2"/>
<rect x="67.69" y="94.36" width="5.9" height="5.9" fill="#c6d83e"/>
<rect x="74.73" y="94.36" width="5.9" height="5.9" fill="#6ec2e2"/>
<rect x="81.77" y="94.36" width="5.9" height="5.9" fill="#3249b2"/>
<rect x="88.81" y="94.36" width="5.9" height="5.9" fill="#6420ae"/>
<rect x="95.85" y="94.36" width="5.9" height="5.9" fill="#6420ae"/>
<rect x="102.89" y="94.36" width="5.9" height="5.9" fill="#6420ae"/>
<rect x="61.64" y="103.15" width="5.9" height="5.9" fill="#f2d41e"/>
<rect x="67.69" y="103.15" width="5.9" height="5.9" fill="#4484ca"/>
<rect x="74.73" y="103.15" width="5.9" height="5.9" fill="#6ec2e2"/>
<rect x="81.77" y="103.15" width="5.9" height="5.9" fill="#82dac8"/>
<rect x="88.81" y="103.15" width="5.9" height="5.9" fill="#6420ae"/>
<rect x="95.85" y="103.15" width="5.9" height="5.9" fill="#5812a0"/>
<rect x="102.89" y="103.15" width="5.9" height="5.9" fill="#3249b2"/>
<rect x="109.93" y="103.15" width="5.9" height="5.9" fill="#4484ca"/>
<rect x="116.97" y="103.15" width="5.9" height="5.9" fill="#5812a0"/>
<rect x="124.01" y="103.15" width="5.9" height="5.9" fill="#6420ae"/>
<rect x="56.36" y="111.94" width="5.9" height="5.9" fill="#4cbf48"/>
<rect x="62.27" y="111.94" width="5.9" height="5.9" fill="#f2d41e"/>
<rect x="67.69" y="111.94" width="5.9" height="5.9" fill="#3249b2"/>
<rect x="74.73" y="111.94" width="5.9" height="5.9" fill="#3249b2"/>
<rect x="81.77" y="111.94" width="5.9" height="5.9" fill="#6420ae"/>
<rect x="88.81" y="111.94" width="5.9" height="5.9" fill="#3249b2"/>
<rect x="95.85" y="111.94" width="5.9" height="5.9" fill="#6420ae"/>
<rect x="102.89" y="111.94" width="5.9" height="5.9" fill="#6420ae"/>
<rect x="46.57" y="120.73" width="5.9" height="5.9" fill="#f2d41e"/>
<rect x="53.61" y="120.73" width="5.9" height="5.9" fill="#c6d83e"/>
<rect x="60.65" y="120.73" width="5.9" height="5.9" fill="#4cbf48"/>
<rect x="67.69" y="120.73" width="5.9" height="5.9" fill="#4484ca"/>
<rect x="81.77" y="120.73" width="5.9" height="5.9" fill="#3249b2"/>
<rect x="88.81" y="120.73" width="5.9" height="5.9" fill="#6420ae"/>
<rect x="53.61" y="129.52" width="5.9" height="5.9" fill="#c6d83e"/>
<rect x="60.65" y="129.52" width="5.9" height="5.9" fill="#6420ae"/>
<rect x="67.69" y="129.52" width="5.9" height="5.9" fill="#6420ae"/>
<rect x="81.77" y="129.52" width="5.9" height="5.9" fill="#6420ae"/>
<rect x="46.57" y="138.31" width="5.9" height="5.9" fill="#4cbf48"/>
<rect x="53.61" y="138.31" width="5.9" height="5.9" fill="#3249b2"/>
<rect x="60.65" y="138.31" width="5.9" height="5.9" fill="#3249b2"/>
<rect x="67.69" y="138.31" width="5.9" height="5.9" fill="#6420ae"/>
<rect x="74.73" y="138.31" width="5.9" height="5.9" fill="#6420ae"/>
<rect x="46.57" y="147.10" width="5.9" height="5.9" fill="#4484ca"/>
<rect x="53.61" y="147.10" width="5.9" height="5.9" fill="#6420ae"/>
<rect x="60.65" y="147.10" width="5.9" height="5.9" fill="#6420ae"/>
<rect x="67.69" y="147.10" width="5.9" height="5.9" fill="#6420ae"/>
<rect x="39.53" y="155.89" width="5.9" height="5.9" fill="#82dac8"/>
<rect x="46.57" y="155.89" width="5.9" height="5.9" fill="#3249b2"/>
<rect x="53.61" y="155.89" width="5.9" height="5.9" fill="#5812a0"/>
<rect x="60.65" y="155.89" width="5.9" height="5.9" fill="#5812a0"/>
<rect x="39.53" y="164.68" width="5.9" height="5.9" fill="#4484ca"/>
<rect x="46.57" y="164.68" width="5.9" height="5.9" fill="#3249b2"/>
<rect x="53.61" y="164.68" width="5.9" height="5.9" fill="#6420ae"/>
<rect x="32.49" y="173.47" width="5.9" height="5.9" fill="#3249b2"/>
<rect x="39.53" y="173.47" width="5.9" height="5.9" fill="#82dac8"/>
<rect x="46.57" y="173.47" width="5.9" height="5.9" fill="#3249b2"/>
<rect x="53.61" y="173.47" width="5.9" height="5.9" fill="#6420ae"/>
<text x="12.0" y="18.2" class="pl">c</text>
<circle cx="16.6" cy="5.6" r="0.75" fill="#ddd"/>
<text x="33" y="55.8" class="cs" text-anchor="middle"><tspan font-size="11" dy="-5.5">134</tspan><tspan dy="5.5"> Cs</tspan></text>
<text x="32.6" y="85.3" class="dp" text-anchor="middle">2–4 cm</text>
<use href="#npp"/>
</g>
<g transform="translate(224.50,24.00)">
<use href="#map"/>
<rect x="64.17" y="15.25" width="5.9" height="5.9" fill="#6420ae"/>
<rect x="74.73" y="15.25" width="5.9" height="5.9" fill="#6420ae"/>
<rect x="81.77" y="15.25" width="5.9" height="5.9" fill="#6420ae"/>
<rect x="88.81" y="15.25" width="5.9" height="5.9" fill="#4484ca"/>
<rect x="95.85" y="15.25" width="5.9" height="5.9" fill="#4484ca"/>
<rect x="67.69" y="24.04" width="5.9" height="5.9" fill="#3249b2"/>
<rect x="81.77" y="24.04" width="5.9" height="5.9" fill="#5812a0"/>
<rect x="88.81" y="24.04" width="5.9" height="5.9" fill="#6420ae"/>
<rect x="95.85" y="24.04" width="5.9" height="5.9" fill="#3249b2"/>
<rect x="65.93" y="32.83" width="5.9" height="5.9" fill="#f2d41e"/>
<rect x="67.69" y="32.83" width="5.9" height="5.9" fill="#4484ca"/>
<rect x="81.77" y="32.83" width="5.9" height="5.9" fill="#5812a0"/>
<rect x="88.81" y="32.83" width="5.9" height="5.9" fill="#6420ae"/>
<rect x="95.85" y="32.83" width="5.9" height="5.9" fill="#4cbf48"/>
<rect x="66.63" y="41.62" width="5.9" height="5.9" fill="#4cbf48"/>
<rect x="67.69" y="41.62" width="5.9" height="5.9" fill="#5812a0"/>
<rect x="74.73" y="41.62" width="5.9" height="5.9" fill="#6420ae"/>
<rect x="81.77" y="41.62" width="5.9" height="5.9" fill="#82dac8"/>
<rect x="88.81" y="41.62" width="5.9" height="5.9" fill="#82dac8"/>
<rect x="95.85" y="41.62" width="5.9" height="5.9" fill="#3249b2"/>
<rect x="81.77" y="50.41" width="5.9" height="5.9" fill="#3249b2"/>
<rect x="88.81" y="50.41" width="5.9" height="5.9" fill="#5812a0"/>
<rect x="95.85" y="50.41" width="5.9" height="5.9" fill="#6420ae"/>
<rect x="83.18" y="59.20" width="5.9" height="5.9" fill="#82dac8"/>
<rect x="88.81" y="59.20" width="5.9" height="5.9" fill="#4484ca"/>
<rect x="95.85" y="59.20" width="5.9" height="5.9" fill="#6420ae"/>
<rect x="102.89" y="59.20" width="5.9" height="5.9" fill="#5812a0"/>
<rect x="81.77" y="67.99" width="5.9" height="5.9" fill="#4cbf48"/>
<rect x="88.81" y="67.99" width="5.9" height="5.9" fill="#5812a0"/>
<rect x="95.85" y="67.99" width="5.9" height="5.9" fill="#6420ae"/>
<rect x="102.89" y="67.99" width="5.9" height="5.9" fill="#6420ae"/>
<rect x="67.69" y="76.78" width="5.9" height="5.9" fill="#4cbf48"/>
<rect x="74.73" y="76.78" width="5.9" height="5.9" fill="#82dac8"/>
<rect x="81.77" y="76.78" width="5.9" height="5.9" fill="#82dac8"/>
<rect x="88.81" y="76.78" width="5.9" height="5.9" fill="#6420ae"/>
<rect x="95.85" y="76.78" width="5.9" height="5.9" fill="#6420ae"/>
<rect x="102.89" y="76.78" width="5.9" height="5.9" fill="#5812a0"/>
<rect x="67.69" y="85.57" width="5.9" height="5.9" fill="#4cbf48"/>
<rect x="74.73" y="85.57" width="5.9" height="5.9" fill="#6420ae"/>
<rect x="81.77" y="85.57" width="5.9" height="5.9" fill="#3249b2"/>
<rect x="88.81" y="85.57" width="5.9" height="5.9" fill="#6420ae"/>
<rect x="95.85" y="85.57" width="5.9" height="5.9" fill="#5812a0"/>
<rect x="102.89" y="85.57" width="5.9" height="5.9" fill="#6420ae"/>
<rect x="67.69" y="94.36" width="5.9" height="5.9" fill="#4cbf48"/>
<rect x="74.73" y="94.36" width="5.9" height="5.9" fill="#3249b2"/>
<rect x="81.77" y="94.36" width="5.9" height="5.9" fill="#6420ae"/>
<rect x="88.81" y="94.36" width="5.9" height="5.9" fill="#5812a0"/>
<rect x="95.85" y="94.36" width="5.9" height="5.9" fill="#6420ae"/>
<rect x="102.89" y="94.36" width="5.9" height="5.9" fill="#5812a0"/>
<rect x="61.64" y="103.15" width="5.9" height="5.9" fill="#d88c6a"/>
<rect x="67.69" y="103.15" width="5.9" height="5.9" fill="#6420ae"/>
<rect x="74.73" y="103.15" width="5.9" height="5.9" fill="#3249b2"/>
<rect x="81.77" y="103.15" width="5.9" height="5.9" fill="#6420ae"/>
<rect x="88.81" y="103.15" width="5.9" height="5.9" fill="#6420ae"/>
<rect x="95.85" y="103.15" width="5.9" height="5.9" fill="#5812a0"/>
<rect x="102.89" y="103.15" width="5.9" height="5.9" fill="#6420ae"/>
<rect x="109.93" y="103.15" width="5.9" height="5.9" fill="#5812a0"/>
<path d="M116.92 103.10L121.72 109.10M121.72 103.10L116.92 109.10" class="x"/>
<path d="M123.96 103.10L128.76 109.10M128.76 103.10L123.96 109.10" class="x"/>
<rect x="56.36" y="111.94" width="5.9" height="5.9" fill="#4cbf48"/>
<rect x="62.27" y="111.94" width="5.9" height="5.9" fill="#f2d41e"/>
<rect x="67.69" y="111.94" width="5.9" height="5.9" fill="#3249b2"/>
<rect x="74.73" y="111.94" width="5.9" height="5.9" fill="#6420ae"/>
<rect x="81.77" y="111.94" width="5.9" height="5.9" fill="#6420ae"/>
<rect x="88.81" y="111.94" width="5.9" height="5.9" fill="#5812a0"/>
<rect x="95.85" y="111.94" width="5.9" height="5.9" fill="#6420ae"/>
<rect x="102.89" y="111.94" width="5.9" height="5.9" fill="#6420ae"/>
<rect x="46.57" y="120.73" width="5.9" height="5.9" fill="#c6d83e"/>
<rect x="53.61" y="120.73" width="5.9" height="5.9" fill="#4cbf48"/>
<rect x="60.65" y="120.73" width="5.9" height="5.9" fill="#82dac8"/>
<rect x="67.69" y="120.73" width="5.9" height="5.9" fill="#3249b2"/>
<rect x="81.77" y="120.73" width="5.9" height="5.9" fill="#6420ae"/>
<rect x="88.81" y="120.73" width="5.9" height="5.9" fill="#5812a0"/>
<rect x="53.61" y="129.52" width="5.9" height="5.9" fill="#4cbf48"/>
<rect x="60.65" y="129.52" width="5.9" height="5.9" fill="#6420ae"/>
<rect x="67.69" y="129.52" width="5.9" height="5.9" fill="#6420ae"/>
<rect x="81.77" y="129.52" width="5.9" height="5.9" fill="#6420ae"/>
<rect x="46.57" y="138.31" width="5.9" height="5.9" fill="#82dac8"/>
<rect x="53.61" y="138.31" width="5.9" height="5.9" fill="#6420ae"/>
<rect x="60.65" y="138.31" width="5.9" height="5.9" fill="#6420ae"/>
<rect x="67.69" y="138.31" width="5.9" height="5.9" fill="#5812a0"/>
<rect x="74.73" y="138.31" width="5.9" height="5.9" fill="#6420ae"/>
<rect x="46.57" y="147.10" width="5.9" height="5.9" fill="#3249b2"/>
<rect x="53.61" y="147.10" width="5.9" height="5.9" fill="#5812a0"/>
<rect x="60.65" y="147.10" width="5.9" height="5.9" fill="#5812a0"/>
<path d="M67.64 147.05L72.44 153.05M72.44 147.05L67.64 153.05" class="x"/>
<rect x="39.53" y="155.89" width="5.9" height="5.9" fill="#82dac8"/>
<rect x="46.57" y="155.89" width="5.9" height="5.9" fill="#6420ae"/>
<rect x="53.61" y="155.89" width="5.9" height="5.9" fill="#5812a0"/>
<rect x="60.65" y="155.89" width="5.9" height="5.9" fill="#5812a0"/>
<rect x="39.53" y="164.68" width="5.9" height="5.9" fill="#6420ae"/>
<rect x="46.57" y="164.68" width="5.9" height="5.9" fill="#6420ae"/>
<rect x="53.61" y="164.68" width="5.9" height="5.9" fill="#5812a0"/>
<rect x="32.49" y="173.47" width="5.9" height="5.9" fill="#6ec2e2"/>
<rect x="39.53" y="173.47" width="5.9" height="5.9" fill="#82dac8"/>
<rect x="46.57" y="173.47" width="5.9" height="5.9" fill="#6420ae"/>
<rect x="53.61" y="173.47" width="5.9" height="5.9" fill="#6420ae"/>
<text x="8.4" y="18.2" class="pl">d</text>
<text x="33" y="55.8" class="cs" text-anchor="middle"><tspan font-size="11" dy="-5.5">134</tspan><tspan dy="5.5"> Cs</tspan></text>
<text x="32.6" y="85.3" class="dp" text-anchor="middle">4–6 cm</text>
<use href="#npp"/>
</g>
<g transform="translate(224.50,221.00)">
<use href="#map"/>
<path d="M0 106.4H61.6" stroke="#747474" stroke-width="0.9"/>
<rect x="64.17" y="15.25" width="5.9" height="5.9" fill="#3249b2"/>
<rect x="74.73" y="15.25" width="5.9" height="5.9" fill="#6420ae"/>
<rect x="81.77" y="15.25" width="5.9" height="5.9" fill="#6420ae"/>
<rect x="88.81" y="15.25" width="5.9" height="5.9" fill="#6420ae"/>
<rect x="95.85" y="15.25" width="5.9" height="5.9" fill="#5812a0"/>
<rect x="67.69" y="24.04" width="5.9" height="5.9" fill="#3249b2"/>
<rect x="81.77" y="24.04" width="5.9" height="5.9" fill="#6420ae"/>
<rect x="88.81" y="24.04" width="5.9" height="5.9" fill="#5812a0"/>
<rect x="95.85" y="24.04" width="5.9" height="5.9" fill="#5812a0"/>
<rect x="64.87" y="32.83" width="5.9" height="5.9" fill="#c6d83e"/>
<rect x="67.69" y="32.83" width="5.9" height="5.9" fill="#4cbf48"/>
<rect x="81.77" y="32.83" width="5.9" height="5.9" fill="#5812a0"/>
<rect x="95.85" y="32.83" width="5.9" height="5.9" fill="#3249b2"/>
<rect x="66.63" y="41.62" width="5.9" height="5.9" fill="#6ec2e2"/>
<rect x="67.69" y="41.62" width="5.9" height="5.9" fill="#5812a0"/>
<rect x="74.73" y="41.62" width="5.9" height="5.9" fill="#6420ae"/>
<rect x="81.77" y="41.62" width="5.9" height="5.9" fill="#6ec2e2"/>
<rect x="88.81" y="41.62" width="5.9" height="5.9" fill="#5812a0"/>
<rect x="95.85" y="41.62" width="5.9" height="5.9" fill="#6420ae"/>
<path d="M81.72 50.36L86.52 56.36M86.52 50.36L81.72 56.36" class="x"/>
<path d="M88.76 50.36L93.56 56.36M93.56 50.36L88.76 56.36" class="x"/>
<rect x="95.85" y="50.41" width="5.9" height="5.9" fill="#5812a0"/>
<rect x="83.18" y="59.20" width="5.9" height="5.9" fill="#6420ae"/>
<rect x="88.81" y="59.20" width="5.9" height="5.9" fill="#6420ae"/>
<path d="M102.84 59.15L107.64 65.15M107.64 59.15L102.84 65.15" class="x"/>
<rect x="81.77" y="67.99" width="5.9" height="5.9" fill="#82dac8"/>
<rect x="88.81" y="67.99" width="5.9" height="5.9" fill="#5812a0"/>
<path d="M95.80 67.94L100.60 73.94M100.60 67.94L95.80 73.94" class="x"/>
<rect x="102.89" y="67.99" width="5.9" height="5.9" fill="#5812a0"/>
<rect x="67.69" y="76.78" width="5.9" height="5.9" fill="#82dac8"/>
<rect x="74.73" y="76.78" width="5.9" height="5.9" fill="#3249b2"/>
<rect x="81.77" y="76.78" width="5.9" height="5.9" fill="#4484ca"/>
<rect x="88.81" y="76.78" width="5.9" height="5.9" fill="#6420ae"/>
<rect x="95.85" y="76.78" width="5.9" height="5.9" fill="#6420ae"/>
<rect x="102.89" y="76.78" width="5.9" height="5.9" fill="#6420ae"/>
<rect x="74.73" y="85.57" width="5.9" height="5.9" fill="#6420ae"/>
<rect x="81.77" y="85.57" width="5.9" height="5.9" fill="#6420ae"/>
<path d="M88.76 85.52L93.56 91.52M93.56 85.52L88.76 91.52" class="x"/>
<path d="M95.80 85.52L100.60 91.52M100.60 85.52L95.80 91.52" class="x"/>
<path d="M102.84 85.52L107.64 91.52M107.64 85.52L102.84 91.52" class="x"/>
<rect x="67.69" y="94.36" width="5.9" height="5.9" fill="#4484ca"/>
<rect x="74.73" y="94.36" width="5.9" height="5.9" fill="#6420ae"/>
<rect x="81.77" y="94.36" width="5.9" height="5.9" fill="#5812a0"/>
<rect x="88.81" y="94.36" width="5.9" height="5.9" fill="#6420ae"/>
<rect x="61.64" y="103.15" width="5.9" height="5.9" fill="#c6d83e"/>
<rect x="67.69" y="103.15" width="5.9" height="5.9" fill="#5812a0"/>
<rect x="74.73" y="103.15" width="5.9" height="5.9" fill="#6420ae"/>
<rect x="81.77" y="103.15" width="5.9" height="5.9" fill="#6420ae"/>
<path d="M102.84 103.10L107.64 109.10M107.64 103.10L102.84 109.10" class="x"/>
<path d="M109.88 103.10L114.68 109.10M114.68 103.10L109.88 109.10" class="x"/>
<path d="M116.92 103.10L121.72 109.10M121.72 103.10L116.92 109.10" class="x"/>
<path d="M123.96 103.10L128.76 109.10M128.76 103.10L123.96 109.10" class="x"/>
<rect x="56.36" y="111.94" width="5.9" height="5.9" fill="#6ec2e2"/>
<rect x="62.27" y="111.94" width="5.9" height="5.9" fill="#4cbf48"/>
<rect x="67.69" y="111.94" width="5.9" height="5.9" fill="#5812a0"/>
<rect x="74.73" y="111.94" width="5.9" height="5.9" fill="#6420ae"/>
<path d="M81.72 111.89L86.52 117.89M86.52 111.89L81.72 117.89" class="x"/>
<path d="M88.76 111.89L93.56 117.89M93.56 111.89L88.76 117.89" class="x"/>
<path d="M95.80 111.89L100.60 117.89M100.60 111.89L95.80 117.89" class="x"/>
<path d="M102.84 111.89L107.64 117.89M107.64 111.89L102.84 117.89" class="x"/>
<rect x="46.57" y="120.73" width="5.9" height="5.9" fill="#82dac8"/>
<rect x="60.65" y="120.73" width="5.9" height="5.9" fill="#3249b2"/>
<rect x="67.69" y="120.73" width="5.9" height="5.9" fill="#5812a0"/>
<rect x="81.77" y="120.73" width="5.9" height="5.9" fill="#5812a0"/>
<path d="M88.76 120.68L93.56 126.68M93.56 120.68L88.76 126.68" class="x"/>
<rect x="53.61" y="129.52" width="5.9" height="5.9" fill="#82dac8"/>
<rect x="60.65" y="129.52" width="5.9" height="5.9" fill="#5812a0"/>
<path d="M67.64 129.47L72.44 135.47M72.44 129.47L67.64 135.47" class="x"/>
<path d="M81.72 129.47L86.52 135.47M86.52 129.47L81.72 135.47" class="x"/>
<rect x="46.57" y="138.31" width="5.9" height="5.9" fill="#3249b2"/>
<rect x="53.61" y="138.31" width="5.9" height="5.9" fill="#5812a0"/>
<rect x="60.65" y="138.31" width="5.9" height="5.9" fill="#5812a0"/>
<path d="M67.64 138.26L72.44 144.26M72.44 138.26L67.64 144.26" class="x"/>
<rect x="74.73" y="138.31" width="5.9" height="5.9" fill="#6420ae"/>
<rect x="46.57" y="147.10" width="5.9" height="5.9" fill="#5812a0"/>
<rect x="53.61" y="147.10" width="5.9" height="5.9" fill="#5812a0"/>
<path d="M67.64 147.05L72.44 153.05M72.44 147.05L67.64 153.05" class="x"/>
<rect x="46.57" y="155.89" width="5.9" height="5.9" fill="#5812a0"/>
<path d="M53.56 155.84L58.36 161.84M58.36 155.84L53.56 161.84" class="x"/>
<path d="M60.60 155.84L65.40 161.84M65.40 155.84L60.60 161.84" class="x"/>
<rect x="39.53" y="164.68" width="5.9" height="5.9" fill="#5812a0"/>
<rect x="46.57" y="164.68" width="5.9" height="5.9" fill="#5812a0"/>
<rect x="53.61" y="164.68" width="5.9" height="5.9" fill="#5812a0"/>
<rect x="32.49" y="173.47" width="5.9" height="5.9" fill="#4484ca"/>
<rect x="39.53" y="173.47" width="5.9" height="5.9" fill="#6ec2e2"/>
<rect x="46.57" y="173.47" width="5.9" height="5.9" fill="#5812a0"/>
<path d="M53.56 173.42L58.36 179.42M58.36 173.42L53.56 179.42" class="x"/>
<text x="8.4" y="18.2" class="pl">e</text>
<circle cx="15.7" cy="5.6" r="0.75" fill="#ddd"/>
<text x="33" y="55.8" class="cs" text-anchor="middle"><tspan font-size="11" dy="-5.5">134</tspan><tspan dy="5.5"> Cs</tspan></text>
<text x="32.6" y="85.3" class="dp" text-anchor="middle">6–10 cm</text>
<use href="#npp"/>
</g>
<g transform="translate(224.50,418.00)">
<use href="#map"/>
<path d="M95.80 15.20L100.60 21.20M100.60 15.20L95.80 21.20" class="x"/>
<path d="M95.80 23.99L100.60 29.99M100.60 23.99L95.80 29.99" class="x"/>
<rect x="67.69" y="32.83" width="5.9" height="5.9" fill="#82dac8"/>
<rect x="95.85" y="32.83" width="5.9" height="5.9" fill="#6420ae"/>
<rect x="95.85" y="41.62" width="5.9" height="5.9" fill="#5812a0"/>
<path d="M88.76 50.36L93.56 56.36M93.56 50.36L88.76 56.36" class="x"/>
<rect x="83.18" y="59.20" width="5.9" height="5.9" fill="#6420ae"/>
<rect x="88.81" y="59.20" width="5.9" height="5.9" fill="#6420ae"/>
<rect x="81.77" y="67.99" width="5.9" height="5.9" fill="#3249b2"/>
<rect x="88.81" y="67.99" width="5.9" height="5.9" fill="#6420ae"/>
<rect x="81.77" y="76.78" width="5.9" height="5.9" fill="#6420ae"/>
<rect x="88.81" y="76.78" width="5.9" height="5.9" fill="#5812a0"/>
<path d="M95.80 76.73L100.60 82.73M100.60 76.73L95.80 82.73" class="x"/>
<rect x="74.73" y="85.57" width="5.9" height="5.9" fill="#6420ae"/>
<path d="M81.72 85.52L86.52 91.52M86.52 85.52L81.72 91.52" class="x"/>
<path d="M88.76 85.52L93.56 91.52M93.56 85.52L88.76 91.52" class="x"/>
<path d="M95.80 85.52L100.60 91.52M100.60 85.52L95.80 91.52" class="x"/>
<rect x="67.69" y="94.36" width="5.9" height="5.9" fill="#6420ae"/>
<rect x="74.73" y="94.36" width="5.9" height="5.9" fill="#6420ae"/>
<path d="M81.72 94.31L86.52 100.31M86.52 94.31L81.72 100.31" class="x"/>
<rect x="61.64" y="103.15" width="5.9" height="5.9" fill="#4484ca"/>
<path d="M67.64 103.10L72.44 109.10M72.44 103.10L67.64 109.10" class="x"/>
<rect x="74.73" y="103.15" width="5.9" height="5.9" fill="#6420ae"/>
<path d="M109.88 103.10L114.68 109.10M114.68 103.10L109.88 109.10" class="x"/>
<path d="M123.96 103.10L128.76 109.10M128.76 103.10L123.96 109.10" class="x"/>
<rect x="67.69" y="111.94" width="5.9" height="5.9" fill="#5812a0"/>
<path d="M74.68 111.89L79.48 117.89M79.48 111.89L74.68 117.89" class="x"/>
<rect x="46.57" y="120.73" width="5.9" height="5.9" fill="#3249b2"/>
<rect x="60.65" y="120.73" width="5.9" height="5.9" fill="#6420ae"/>
<rect x="67.69" y="120.73" width="5.9" height="5.9" fill="#6420ae"/>
<path d="M81.72 120.68L86.52 126.68M86.52 120.68L81.72 126.68" class="x"/>
<rect x="53.61" y="129.52" width="5.9" height="5.9" fill="#6420ae"/>
<path d="M60.60 129.47L65.40 135.47M65.40 129.47L60.60 135.47" class="x"/>
<path d="M67.64 129.47L72.44 135.47M72.44 129.47L67.64 135.47" class="x"/>
<path d="M81.72 129.47L86.52 135.47M86.52 129.47L81.72 135.47" class="x"/>
<rect x="46.57" y="138.31" width="5.9" height="5.9" fill="#5812a0"/>
<rect x="53.61" y="138.31" width="5.9" height="5.9" fill="#5812a0"/>
<path d="M60.60 138.26L65.40 144.26M65.40 138.26L60.60 144.26" class="x"/>
<path d="M46.52 147.05L51.32 153.05M51.32 147.05L46.52 153.05" class="x"/>
<rect x="53.61" y="147.10" width="5.9" height="5.9" fill="#5812a0"/>
<path d="M67.64 147.05L72.44 153.05M72.44 147.05L67.64 153.05" class="x"/>
<path d="M46.52 155.84L51.32 161.84M51.32 155.84L46.52 161.84" class="x"/>
<path d="M53.56 155.84L58.36 161.84M58.36 155.84L53.56 161.84" class="x"/>
<path d="M60.60 155.84L65.40 161.84M65.40 155.84L60.60 161.84" class="x"/>
<rect x="46.57" y="164.68" width="5.9" height="5.9" fill="#5812a0"/>
<path d="M53.56 164.63L58.36 170.63M58.36 164.63L53.56 170.63" class="x"/>
<rect x="38.83" y="173.47" width="5.9" height="5.9" fill="#70d2aa"/>
<path d="M46.52 173.42L51.32 179.42M51.32 173.42L46.52 179.42" class="x"/>
<path d="M53.56 173.42L58.36 179.42M58.36 173.42L53.56 179.42" class="x"/>
<text x="8.4" y="18.2" class="pl">f</text>
<text x="33" y="55.8" class="cs" text-anchor="middle"><tspan font-size="11" dy="-5.5">134</tspan><tspan dy="5.5"> Cs</tspan></text>
<text x="32.6" y="85.3" class="dp" text-anchor="middle">10–14 cm</text>
<use href="#npp"/>
</g>
<path d="M55.10 24.30v-3.0M55.10 217.50v3.0M69.10 24.30v-6.0M69.10 217.50v6.0M83.10 24.30v-3.0M83.10 217.50v3.0M97.10 24.30v-3.0M97.10 217.50v3.0M111.10 24.30v-6.0M111.10 217.50v6.0M125.10 24.30v-3.0M125.10 217.50v3.0M139.10 24.30v-3.0M139.10 217.50v3.0M153.10 24.30v-6.0M153.10 217.50v6.0M167.10 24.30v-3.0M167.10 217.50v3.0M181.10 24.30v-3.0M181.10 217.50v3.0M195.10 24.30v-6.0M195.10 217.50v6.0M47.95 24.30h-6.0M195.15 24.30h6.0M47.95 42.06h-3.0M195.15 42.06h3.0M47.95 59.78h-3.0M195.15 59.78h3.0M47.95 77.46h-6.0M195.15 77.46h6.0M47.95 95.10h-3.0M195.15 95.10h3.0M47.95 112.70h-3.0M195.15 112.70h3.0M47.95 130.26h-6.0M195.15 130.26h6.0M47.95 147.78h-3.0M195.15 147.78h3.0M47.95 165.27h-3.0M195.15 165.27h3.0M47.95 182.72h-6.0M195.15 182.72h6.0M47.95 200.13h-3.0M195.15 200.13h3.0M47.95 217.50h-3.0M195.15 217.50h3.0" class="tk"/>
<rect x="47.95" y="24.30" width="147.20" height="193.20" class="fr"/>
<path d="M55.10 221.30v-3.0M55.10 414.50v3.0M69.10 221.30v-6.0M69.10 414.50v6.0M83.10 221.30v-3.0M83.10 414.50v3.0M97.10 221.30v-3.0M97.10 414.50v3.0M111.10 221.30v-6.0M111.10 414.50v6.0M125.10 221.30v-3.0M125.10 414.50v3.0M139.10 221.30v-3.0M139.10 414.50v3.0M153.10 221.30v-6.0M153.10 414.50v6.0M167.10 221.30v-3.0M167.10 414.50v3.0M181.10 221.30v-3.0M181.10 414.50v3.0M195.10 221.30v-6.0M195.10 414.50v6.0M47.95 221.30h-6.0M195.15 221.30h6.0M47.95 239.06h-3.0M195.15 239.06h3.0M47.95 256.78h-3.0M195.15 256.78h3.0M47.95 274.46h-6.0M195.15 274.46h6.0M47.95 292.10h-3.0M195.15 292.10h3.0M47.95 309.70h-3.0M195.15 309.70h3.0M47.95 327.26h-6.0M195.15 327.26h6.0M47.95 344.78h-3.0M195.15 344.78h3.0M47.95 362.27h-3.0M195.15 362.27h3.0M47.95 379.72h-6.0M195.15 379.72h6.0M47.95 397.13h-3.0M195.15 397.13h3.0M47.95 414.50h-3.0M195.15 414.50h3.0" class="tk"/>
<rect x="47.95" y="221.30" width="147.20" height="193.20" class="fr"/>
<path d="M55.10 418.30v-3.0M55.10 611.50v3.0M69.10 418.30v-6.0M69.10 611.50v6.0M83.10 418.30v-3.0M83.10 611.50v3.0M97.10 418.30v-3.0M97.10 611.50v3.0M111.10 418.30v-6.0M111.10 611.50v6.0M125.10 418.30v-3.0M125.10 611.50v3.0M139.10 418.30v-3.0M139.10 611.50v3.0M153.10 418.30v-6.0M153.10 611.50v6.0M167.10 418.30v-3.0M167.10 611.50v3.0M181.10 418.30v-3.0M181.10 611.50v3.0M195.10 418.30v-6.0M195.10 611.50v6.0M47.95 418.30h-6.0M195.15 418.30h6.0M47.95 436.06h-3.0M195.15 436.06h3.0M47.95 453.78h-3.0M195.15 453.78h3.0M47.95 471.46h-6.0M195.15 471.46h6.0M47.95 489.10h-3.0M195.15 489.10h3.0M47.95 506.70h-3.0M195.15 506.70h3.0M47.95 524.26h-6.0M195.15 524.26h6.0M47.95 541.78h-3.0M195.15 541.78h3.0M47.95 559.27h-3.0M195.15 559.27h3.0M47.95 576.72h-6.0M195.15 576.72h6.0M47.95 594.13h-3.0M195.15 594.13h3.0M47.95 611.50h-3.0M195.15 611.50h3.0" class="tk"/>
<rect x="47.95" y="418.30" width="147.20" height="193.20" class="fr"/>
<path d="M232.10 24.30v-3.0M232.10 217.50v3.0M246.10 24.30v-6.0M246.10 217.50v6.0M260.10 24.30v-3.0M260.10 217.50v3.0M274.10 24.30v-3.0M274.10 217.50v3.0M288.10 24.30v-6.0M288.10 217.50v6.0M302.10 24.30v-3.0M302.10 217.50v3.0M316.10 24.30v-3.0M316.10 217.50v3.0M330.10 24.30v-6.0M330.10 217.50v6.0M344.10 24.30v-3.0M344.10 217.50v3.0M358.10 24.30v-3.0M358.10 217.50v3.0M372.10 24.30v-6.0M372.10 217.50v6.0M224.95 24.30h-6.0M372.15 24.30h6.0M224.95 42.06h-3.0M372.15 42.06h3.0M224.95 59.78h-3.0M372.15 59.78h3.0M224.95 77.46h-6.0M372.15 77.46h6.0M224.95 95.10h-3.0M372.15 95.10h3.0M224.95 112.70h-3.0M372.15 112.70h3.0M224.95 130.26h-6.0M372.15 130.26h6.0M224.95 147.78h-3.0M372.15 147.78h3.0M224.95 165.27h-3.0M372.15 165.27h3.0M224.95 182.72h-6.0M372.15 182.72h6.0M224.95 200.13h-3.0M372.15 200.13h3.0M224.95 217.50h-3.0M372.15 217.50h3.0" class="tk"/>
<rect x="224.95" y="24.30" width="147.20" height="193.20" class="fr"/>
<path d="M232.10 221.30v-3.0M232.10 414.50v3.0M246.10 221.30v-6.0M246.10 414.50v6.0M260.10 221.30v-3.0M260.10 414.50v3.0M274.10 221.30v-3.0M274.10 414.50v3.0M288.10 221.30v-6.0M288.10 414.50v6.0M302.10 221.30v-3.0M302.10 414.50v3.0M316.10 221.30v-3.0M316.10 414.50v3.0M330.10 221.30v-6.0M330.10 414.50v6.0M344.10 221.30v-3.0M344.10 414.50v3.0M358.10 221.30v-3.0M358.10 414.50v3.0M372.10 221.30v-6.0M372.10 414.50v6.0M224.95 221.30h-6.0M372.15 221.30h6.0M224.95 239.06h-3.0M372.15 239.06h3.0M224.95 256.78h-3.0M372.15 256.78h3.0M224.95 274.46h-6.0M372.15 274.46h6.0M224.95 292.10h-3.0M372.15 292.10h3.0M224.95 309.70h-3.0M372.15 309.70h3.0M224.95 327.26h-6.0M372.15 327.26h6.0M224.95 344.78h-3.0M372.15 344.78h3.0M224.95 362.27h-3.0M372.15 362.27h3.0M224.95 379.72h-6.0M372.15 379.72h6.0M224.95 397.13h-3.0M372.15 397.13h3.0M224.95 414.50h-3.0M372.15 414.50h3.0" class="tk"/>
<rect x="224.95" y="221.30" width="147.20" height="193.20" class="fr"/>
<path d="M232.10 418.30v-3.0M232.10 611.50v3.0M246.10 418.30v-6.0M246.10 611.50v6.0M260.10 418.30v-3.0M260.10 611.50v3.0M274.10 418.30v-3.0M274.10 611.50v3.0M288.10 418.30v-6.0M288.10 611.50v6.0M302.10 418.30v-3.0M302.10 611.50v3.0M316.10 418.30v-3.0M316.10 611.50v3.0M330.10 418.30v-6.0M330.10 611.50v6.0M344.10 418.30v-3.0M344.10 611.50v3.0M358.10 418.30v-3.0M358.10 611.50v3.0M372.10 418.30v-6.0M372.10 611.50v6.0M224.95 418.30h-6.0M372.15 418.30h6.0M224.95 436.06h-3.0M372.15 436.06h3.0M224.95 453.78h-3.0M372.15 453.78h3.0M224.95 471.46h-6.0M372.15 471.46h6.0M224.95 489.10h-3.0M372.15 489.10h3.0M224.95 506.70h-3.0M372.15 506.70h3.0M224.95 524.26h-6.0M372.15 524.26h6.0M224.95 541.78h-3.0M372.15 541.78h3.0M224.95 559.27h-3.0M372.15 559.27h3.0M224.95 576.72h-6.0M372.15 576.72h6.0M224.95 594.13h-3.0M372.15 594.13h3.0M224.95 611.50h-3.0M372.15 611.50h3.0" class="tk"/>
<rect x="224.95" y="418.30" width="147.20" height="193.20" class="fr"/>
<text x="111.4" y="12.3" class="ax" text-anchor="middle">141<tspan font-size="10.5" dy="-3.6">°</tspan><tspan dy="3.6">E</tspan></text>
<text x="194.7" y="12.3" class="ax" text-anchor="middle">142<tspan font-size="10.5" dy="-3.6">°</tspan><tspan dy="3.6">E</tspan></text>
<text x="288.4" y="12.3" class="ax" text-anchor="middle">141<tspan font-size="10.5" dy="-3.6">°</tspan><tspan dy="3.6">E</tspan></text>
<text x="371.7" y="12.3" class="ax" text-anchor="middle">142<tspan font-size="10.5" dy="-3.6">°</tspan><tspan dy="3.6">E</tspan></text>
<text x="34.5" y="30.2" class="ax" text-anchor="end">38<tspan font-size="10.5" dy="-3.6">°</tspan><tspan dy="3.6">N</tspan></text>
<text x="34.5" y="136.4" class="ax" text-anchor="end">37<tspan font-size="10.5" dy="-3.6">°</tspan><tspan dy="3.6">N</tspan></text>
<text x="34.5" y="227.2" class="ax" text-anchor="end">38<tspan font-size="10.5" dy="-3.6">°</tspan><tspan dy="3.6">N</tspan></text>
<text x="34.5" y="333.4" class="ax" text-anchor="end">37<tspan font-size="10.5" dy="-3.6">°</tspan><tspan dy="3.6">N</tspan></text>
<text x="34.5" y="424.2" class="ax" text-anchor="end">38<tspan font-size="10.5" dy="-3.6">°</tspan><tspan dy="3.6">N</tspan></text>
<text x="34.5" y="530.4" class="ax" text-anchor="end">37<tspan font-size="10.5" dy="-3.6">°</tspan><tspan dy="3.6">N</tspan></text>
<g>
<rect x="394.30" y="565.49" width="9.30" height="30.01" fill="#6a28b0"/>
<rect x="394.30" y="548.11" width="9.30" height="17.68" fill="#3d4fb6"/>
<rect x="394.30" y="535.78" width="9.30" height="12.63" fill="#3c58bc"/>
<rect x="394.30" y="526.21" width="9.30" height="9.87" fill="#4a8ccc"/>
<rect x="394.30" y="518.40" width="9.30" height="8.12" fill="#6cc2e0"/>
<rect x="394.30" y="511.79" width="9.30" height="6.91" fill="#8adedc"/>
<rect x="394.30" y="506.07" width="9.30" height="6.02" fill="#7ed8c6"/>
<rect x="394.30" y="501.02" width="9.30" height="5.35" fill="#6ed0ac"/>
<rect x="394.30" y="496.50" width="9.30" height="4.82" fill="#58c47c"/>
<rect x="394.30" y="466.79" width="9.30" height="30.01" fill="#4cbf48"/>
<rect x="394.30" y="449.41" width="9.30" height="17.68" fill="#86cc4c"/>
<rect x="394.30" y="437.08" width="9.30" height="12.63" fill="#d2d83e"/>
<rect x="394.30" y="427.51" width="9.30" height="9.87" fill="#f2d422"/>
<rect x="394.30" y="419.70" width="9.30" height="8.12" fill="#d69a70"/>
<rect x="394.30" y="413.09" width="9.30" height="6.91" fill="#c8726e"/>
<rect x="394.30" y="407.37" width="9.30" height="6.02" fill="#c0606a"/>
<rect x="394.30" y="402.32" width="9.30" height="5.35" fill="#b0425a"/>
<rect x="394.30" y="397.80" width="9.30" height="4.82" fill="#ae3c54"/>
<path d="M394.30 397.80L398.95 381.00L403.60 397.80Z" fill="#aa3a54" stroke="#111" stroke-width="1.3"/>
<path d="M394.30 595.20L398.95 613.50L403.60 595.20Z" fill="#5e1c9c" stroke="#222" stroke-width="1.3"/>
<rect x="394.30" y="397.80" width="9.30" height="197.40" fill="none" stroke="#222" stroke-width="1.3"/>
<path d="M403.60 595.20h6M403.60 565.49h6M403.60 548.11h6M403.60 535.78h6M403.60 526.21h6M403.60 518.40h6M403.60 511.79h6M403.60 506.07h6M403.60 501.02h6M403.60 496.50h6M403.60 466.79h6M403.60 449.41h6M403.60 437.08h6M403.60 427.51h6M403.60 419.70h6M403.60 413.09h6M403.60 407.37h6M403.60 402.32h6M403.60 397.80h6" stroke="#444" stroke-width="1.1"/>
<text x="416" y="403.6" class="ax" font-size="16">10<tspan font-size="11" dy="-6">3</tspan></text>
<text x="416" y="502.3" class="ax" font-size="16">10<tspan font-size="11" dy="-6">2</tspan></text>
<text x="416" y="601.0" class="ax" font-size="16">10<tspan font-size="11" dy="-6">1</tspan></text>
<text transform="translate(403.6,330) rotate(-90)" text-anchor="middle" font-size="16.4" font-weight="bold" fill="#111">Bq / kg–dry</text>
</g>
</svg></body></html>
